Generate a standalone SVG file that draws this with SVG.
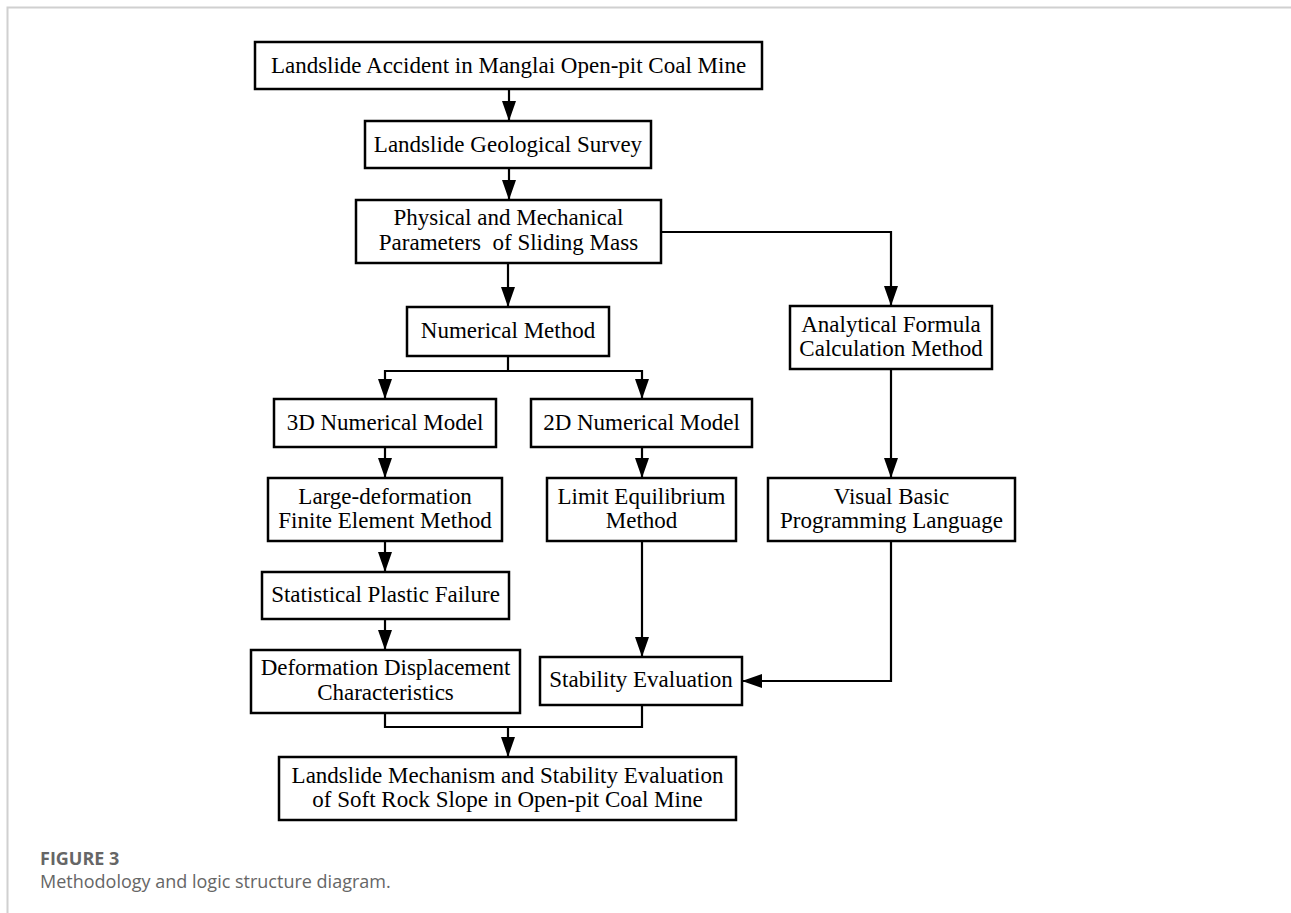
<svg xmlns="http://www.w3.org/2000/svg" width="1291" height="913" viewBox="0 0 1291 913">
<style>
.box{fill:#fff;stroke:#000;stroke-width:2.5}
.t{font-family:"Liberation Serif","Times New Roman",serif;font-size:23px;fill:#000;text-anchor:middle}
.c{fill:none;stroke:#000;stroke-width:2.2}
.cap{font-family:"Open Sans",sans-serif;font-size:18px;fill:#666}
</style>
<defs>
<marker id="ah" markerUnits="userSpaceOnUse" markerWidth="20" markerHeight="14" refX="20" refY="7" orient="auto">
<path d="M0,0 L20,7 L0,14 z" fill="#000"/>
</marker>
</defs>
<rect x="0" y="0" width="1291" height="913" fill="#fff"/>
<path d="M7.5,913 V7.5 H1291" fill="none" stroke="#d0d0d0" stroke-width="2"/>
<g id="connectors">
<path class="c" d="M509,89 V121" marker-end="url(#ah)"/>
<path class="c" d="M509,168 V200" marker-end="url(#ah)"/>
<path class="c" d="M508,263 V307" marker-end="url(#ah)"/>
<path class="c" d="M661,232 H891 V306" marker-end="url(#ah)"/>
<path class="c" d="M508,356 V371 H385 V399" marker-end="url(#ah)"/>
<path class="c" d="M508,371 H642 V399" marker-end="url(#ah)"/>
<path class="c" d="M385,447 V478" marker-end="url(#ah)"/>
<path class="c" d="M642,447 V478" marker-end="url(#ah)"/>
<path class="c" d="M891,369 V478" marker-end="url(#ah)"/>
<path class="c" d="M385,541 V572" marker-end="url(#ah)"/>
<path class="c" d="M642,541 V657" marker-end="url(#ah)"/>
<path class="c" d="M385,619 V650" marker-end="url(#ah)"/>
<path class="c" d="M891,541 V681 H742" marker-end="url(#ah)"/>
<path class="c" d="M385,713 V727 H508 V757" marker-end="url(#ah)"/>
<path class="c" d="M642,705 V727 H508"/>
</g>
<g id="n1"><rect class="box" x="255" y="42" width="507" height="47"/><text class="t" x="508.5" y="73">Landslide Accident in Manglai Open-pit Coal Mine</text></g>
<g id="n2"><rect class="box" x="365" y="121" width="286" height="47"/><text class="t" x="508" y="152">Landslide Geological Survey</text></g>
<g id="n3"><rect class="box" x="356" y="200" width="305" height="63"/><text class="t" x="508.5" y="225">Physical and Mechanical</text><text class="t" x="508.5" y="250" xml:space="preserve">Parameters  of Sliding Mass</text></g>
<g id="n4"><rect class="box" x="407" y="307" width="202" height="49"/><text class="t" x="508" y="338">Numerical Method</text></g>
<g id="n5"><rect class="box" x="790" y="306" width="202" height="63"/><text class="t" x="891" y="332">Analytical Formula</text><text class="t" x="891" y="356">Calculation Method</text></g>
<g id="n6"><rect class="box" x="274" y="399" width="222" height="48"/><text class="t" x="385" y="430">3D Numerical Model</text></g>
<g id="n7"><rect class="box" x="531" y="399" width="221" height="48"/><text class="t" x="641.5" y="430">2D Numerical Model</text></g>
<g id="n8"><rect class="box" x="268" y="478" width="234" height="63"/><text class="t" x="385" y="504">Large-deformation</text><text class="t" x="385" y="528">Finite Element Method</text></g>
<g id="n9"><rect class="box" x="547" y="478" width="189" height="63"/><text class="t" x="641.5" y="504">Limit Equilibrium</text><text class="t" x="641.5" y="528">Method</text></g>
<g id="n10"><rect class="box" x="768" y="478" width="247" height="63"/><text class="t" x="891.5" y="504">Visual Basic</text><text class="t" x="891.5" y="528">Programming Language</text></g>
<g id="n11"><rect class="box" x="262" y="572" width="247" height="47"/><text class="t" x="385.5" y="602">Statistical Plastic Failure</text></g>
<g id="n12"><rect class="box" x="251" y="650" width="269" height="63"/><text class="t" x="385.5" y="675">Deformation Displacement</text><text class="t" x="385.5" y="700">Characteristics</text></g>
<g id="n13"><rect class="box" x="540" y="657" width="202" height="48"/><text class="t" x="641" y="687">Stability Evaluation</text></g>
<g id="n14"><rect class="box" x="279" y="757" width="457" height="63"/><text class="t" x="507.5" y="783">Landslide Mechanism and Stability Evaluation</text><text class="t" x="507.5" y="807">of Soft Rock Slope in Open-pit Coal Mine</text></g>
<g id="caption">
<text class="cap" x="40" y="865" font-weight="bold" fill="#5a5a5a">FIGURE 3</text>
<text class="cap" x="40" y="888">Methodology and logic structure diagram.</text>
</g>
</svg>
